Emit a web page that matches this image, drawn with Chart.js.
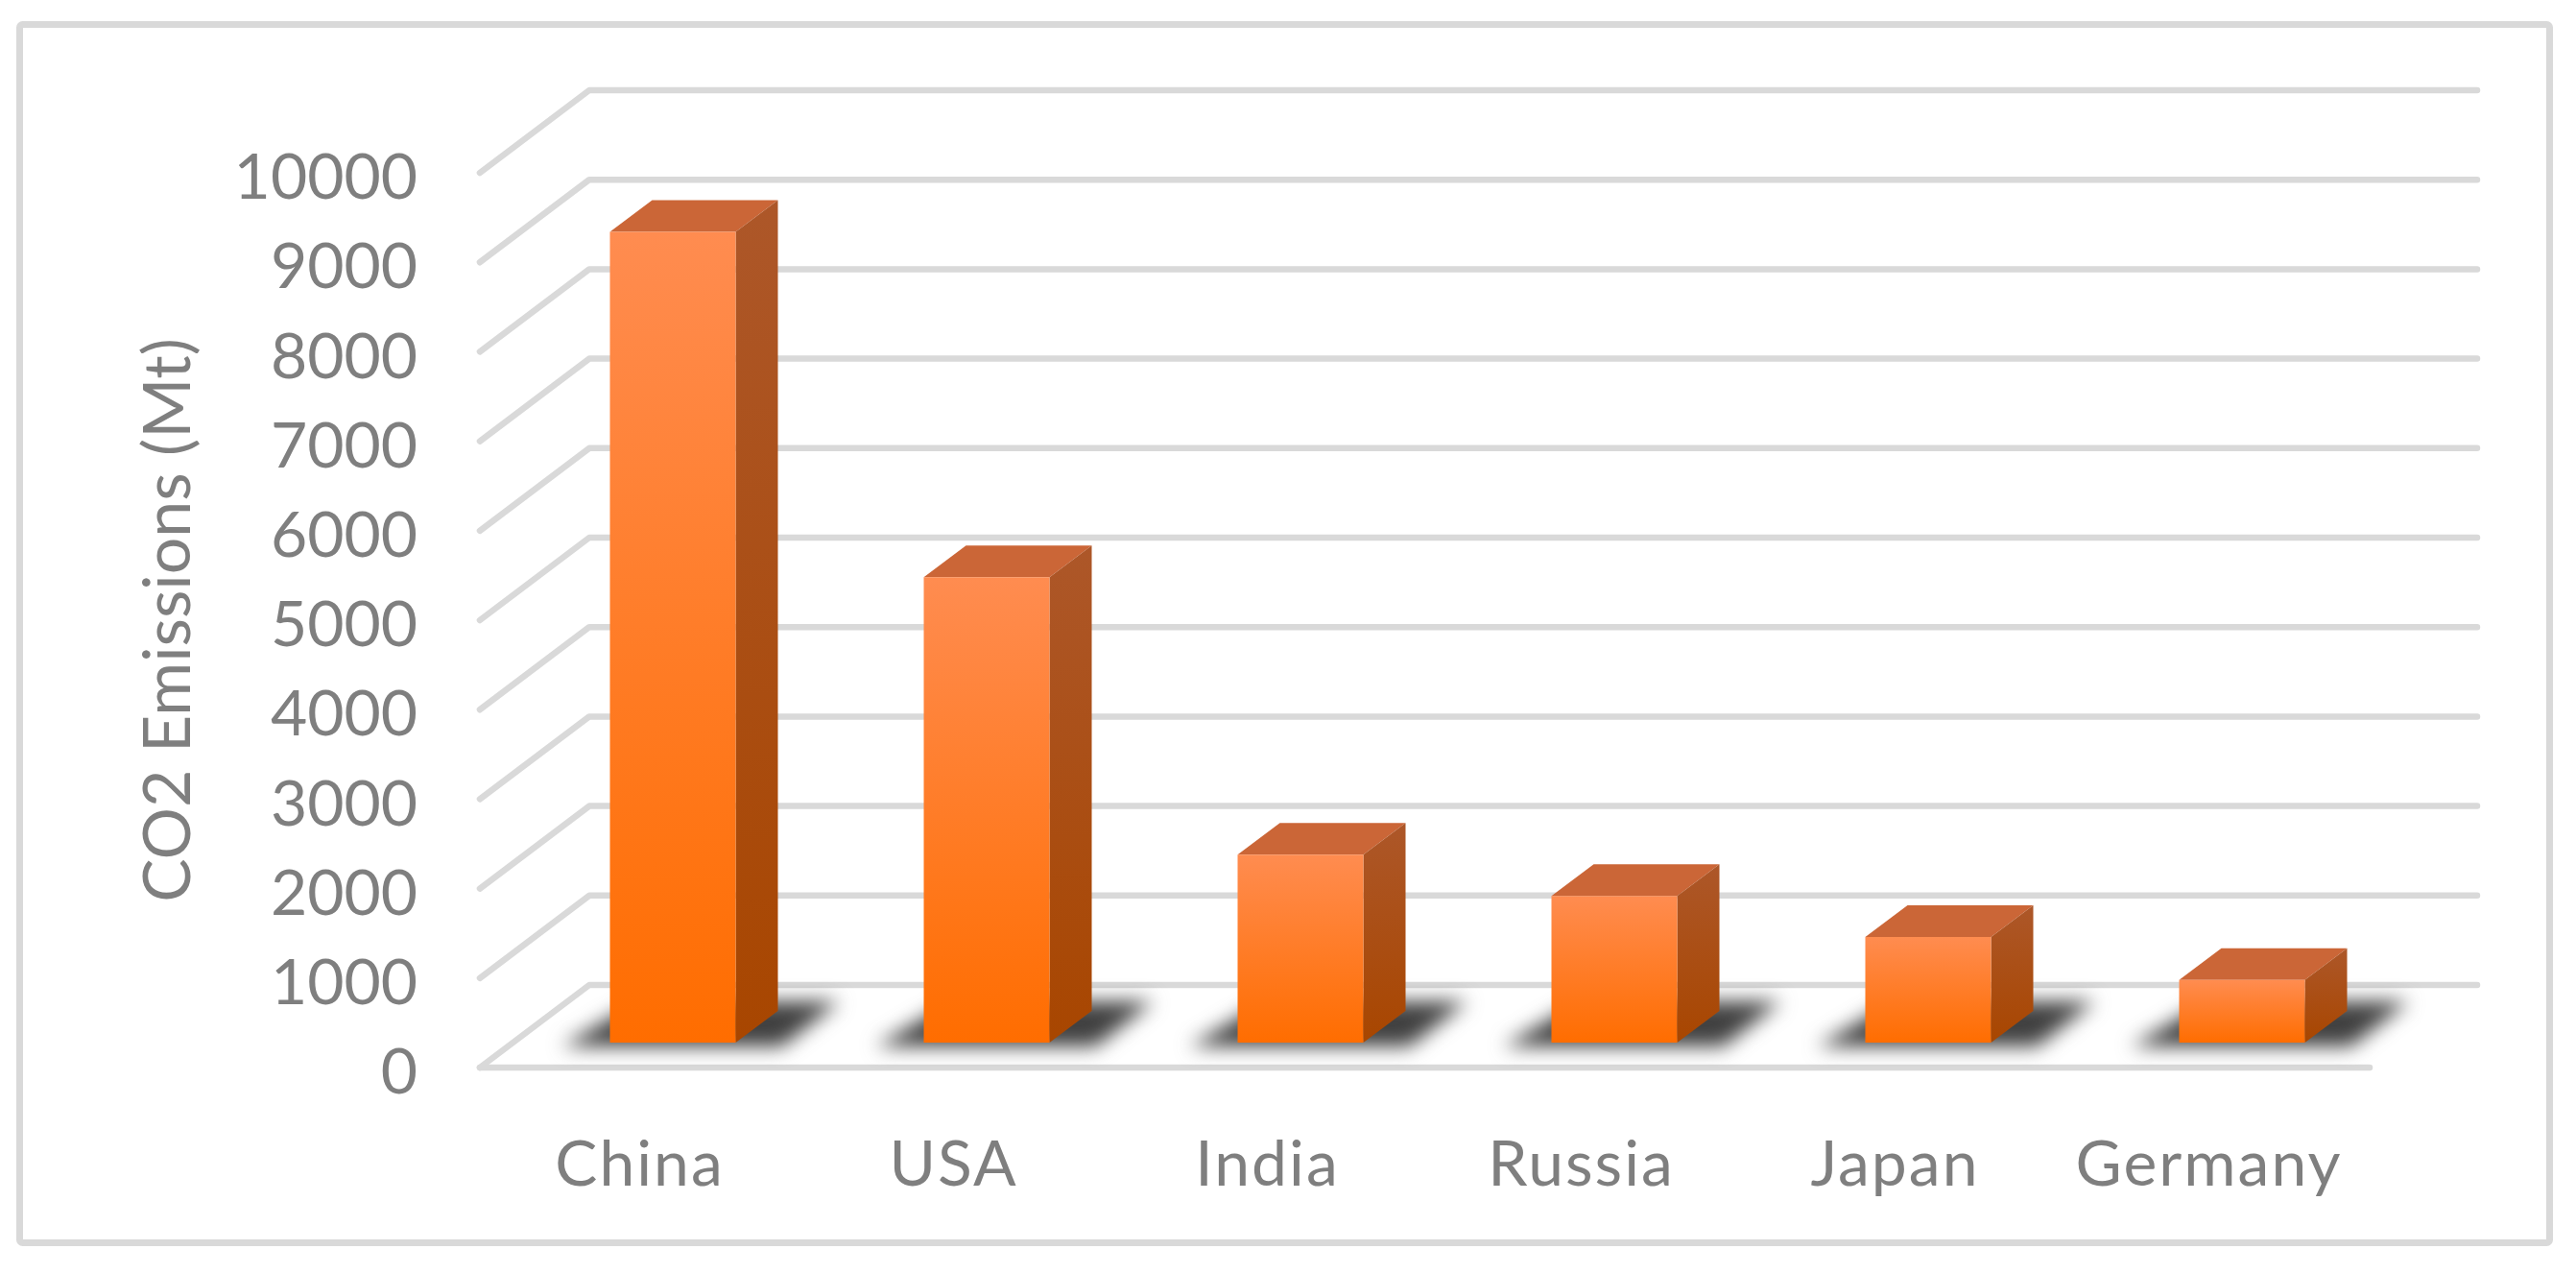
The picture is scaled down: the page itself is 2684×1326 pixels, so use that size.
<!DOCTYPE html>
<html>
<head>
<meta charset="utf-8">
<style>html,body{margin:0;padding:0;background:#fff}canvas{display:block}</style>
<script src="https://cdn.jsdelivr.net/npm/chart.js@4/dist/chart.umd.min.js"></script>
</head>
<body>
<canvas id="c" width="2684" height="1326"></canvas>
<script>
const categories = ["China", "USA", "India", "Russia", "Japan", "Germany"];
const emissions = [9060, 5200, 2100, 1640, 1180, 700];
const yTicks = [0, 1000, 2000, 3000, 4000, 5000, 6000, 7000, 8000, 9000, 10000];
const axisTitle = "CO2 Emissions (Mt)";

const GRID = "#d9d9d9", TEXT = "#7f7f7f", FONT = "Lato";
const WALL = { dx: 114, dy: 86, rightBack: 2581, floorExtra: 7 };
const BAR = { shiftX: 37.5, shiftY: 26, dx: 44, dy: 33 };

function grad(c, y0, y1, a, b) {
  const g = c.createLinearGradient(0, y0, 0, y1);
  g.addColorStop(0, a); g.addColorStop(1, b);
  return g;
}

const scene = {
  id: "scene",
  beforeDraw(chart) {
    const c = chart.ctx, { left, right } = chart.chartArea, y = chart.scales.y;
    c.letterSpacing = "0px";
    c.save();
    c.fillStyle = "#fff"; c.fillRect(0, 0, chart.width, chart.height);
    c.strokeStyle = GRID; c.lineWidth = 7; c.lineJoin = "round";
    c.beginPath(); c.roundRect(20.5, 25.5, 2636, 1269, 3); c.stroke();
    c.filter = "blur(0.5px)";
    c.lineCap = "round"; c.lineWidth = 6.5;
    yTicks.forEach(v => {
      const p = y.getPixelForValue(v);
      c.beginPath();
      c.moveTo(left, p);
      c.lineTo(left + WALL.dx, p - WALL.dy);
      c.lineTo(WALL.rightBack, p - WALL.dy);
      c.stroke();
    });
    const p0 = y.getPixelForValue(0);
    c.beginPath(); c.moveTo(left, p0); c.lineTo(right + WALL.floorExtra, p0); c.stroke();
    c.restore();
  },
  beforeDatasetDraw(chart) {
    const c = chart.ctx;
    const bars = chart.getDatasetMeta(0).data;
    c.save();
    c.translate(BAR.shiftX, BAR.shiftY * -1);
    bars.forEach(b => {
      const l = b.x - b.width / 2, r = b.x + b.width / 2, t = b.y, f = b.base;
      c.save();
      c.filter = "blur(10px)";
      c.fillStyle = "#404040";
      c.beginPath();
      c.moveTo(l - 50, f + 4); c.lineTo(r + 48, f + 4);
      c.lineTo(r + 108, f - 43); c.lineTo(l + 30, f - 43);
      c.closePath(); c.fill();
      c.restore();
      c.fillStyle = "#cb6637";
      c.beginPath();
      c.moveTo(l, t); c.lineTo(l + BAR.dx, t - BAR.dy);
      c.lineTo(r + BAR.dx, t - BAR.dy); c.lineTo(r, t);
      c.closePath(); c.fill();
      c.fillStyle = grad(c, t - BAR.dy, f, "#ad5729", "#a84600");
      c.beginPath();
      c.moveTo(r, t); c.lineTo(r + BAR.dx, t - BAR.dy);
      c.lineTo(r + BAR.dx, f - BAR.dy); c.lineTo(r, f);
      c.closePath(); c.fill();
    });
  },
  afterDatasetDraw(chart) { chart.ctx.restore(); },
  afterDatasetsDraw(chart) { chart.ctx.letterSpacing = "2px"; },
  afterDraw(chart) { chart.ctx.letterSpacing = "0px"; }
};

new Chart(document.getElementById("c"), {
  type: "bar",
  data: {
    labels: categories,
    datasets: [{
      data: emissions,
      barPercentage: 131 / 327,
      categoryPercentage: 1,
      backgroundColor(ctx) {
        const ch = ctx.chart;
        if (!ch.chartArea || ctx.parsed === undefined) return "#ff7a20";
        const y = ch.scales.y;
        return grad(ch.ctx, y.getPixelForValue(ctx.parsed.y), y.getPixelForValue(0), "#ff8c50", "#ff6d00");
      }
    }]
  },
  options: {
    responsive: false,
    animation: false,
    events: [],
    layout: { autoPadding: false, padding: { left: 0, right: 222, top: 180, bottom: 0 } },
    plugins: { legend: { display: false }, tooltip: { enabled: false } },
    scales: {
      x: {
        grid: { display: false },
        border: { display: false },
        afterFit(s) { s.height = 214; },
        ticks: { z: 1, color: TEXT, font: { family: FONT, size: 66 }, padding: 54, labelOffset: 3, maxRotation: 0, minRotation: 0, autoSkip: false }
      },
      y: {
        min: 0, max: 10000,
        grid: { display: false, drawTicks: false },
        border: { display: false },
        afterFit(s) { s.width = 500; },
        afterBuildTicks(s) { s.ticks = yTicks.map(v => ({ value: v })); },
        title: { display: true, text: axisTitle, color: TEXT, font: { family: FONT, size: 68 }, padding: { top: 135, bottom: 0 } },
        ticks: { color: TEXT, font: { family: FONT, size: 66 }, padding: 65, labelOffset: 6, callback: v => String(v) }
      }
    }
  },
  plugins: [scene]
});
</script>
</body>
</html>
